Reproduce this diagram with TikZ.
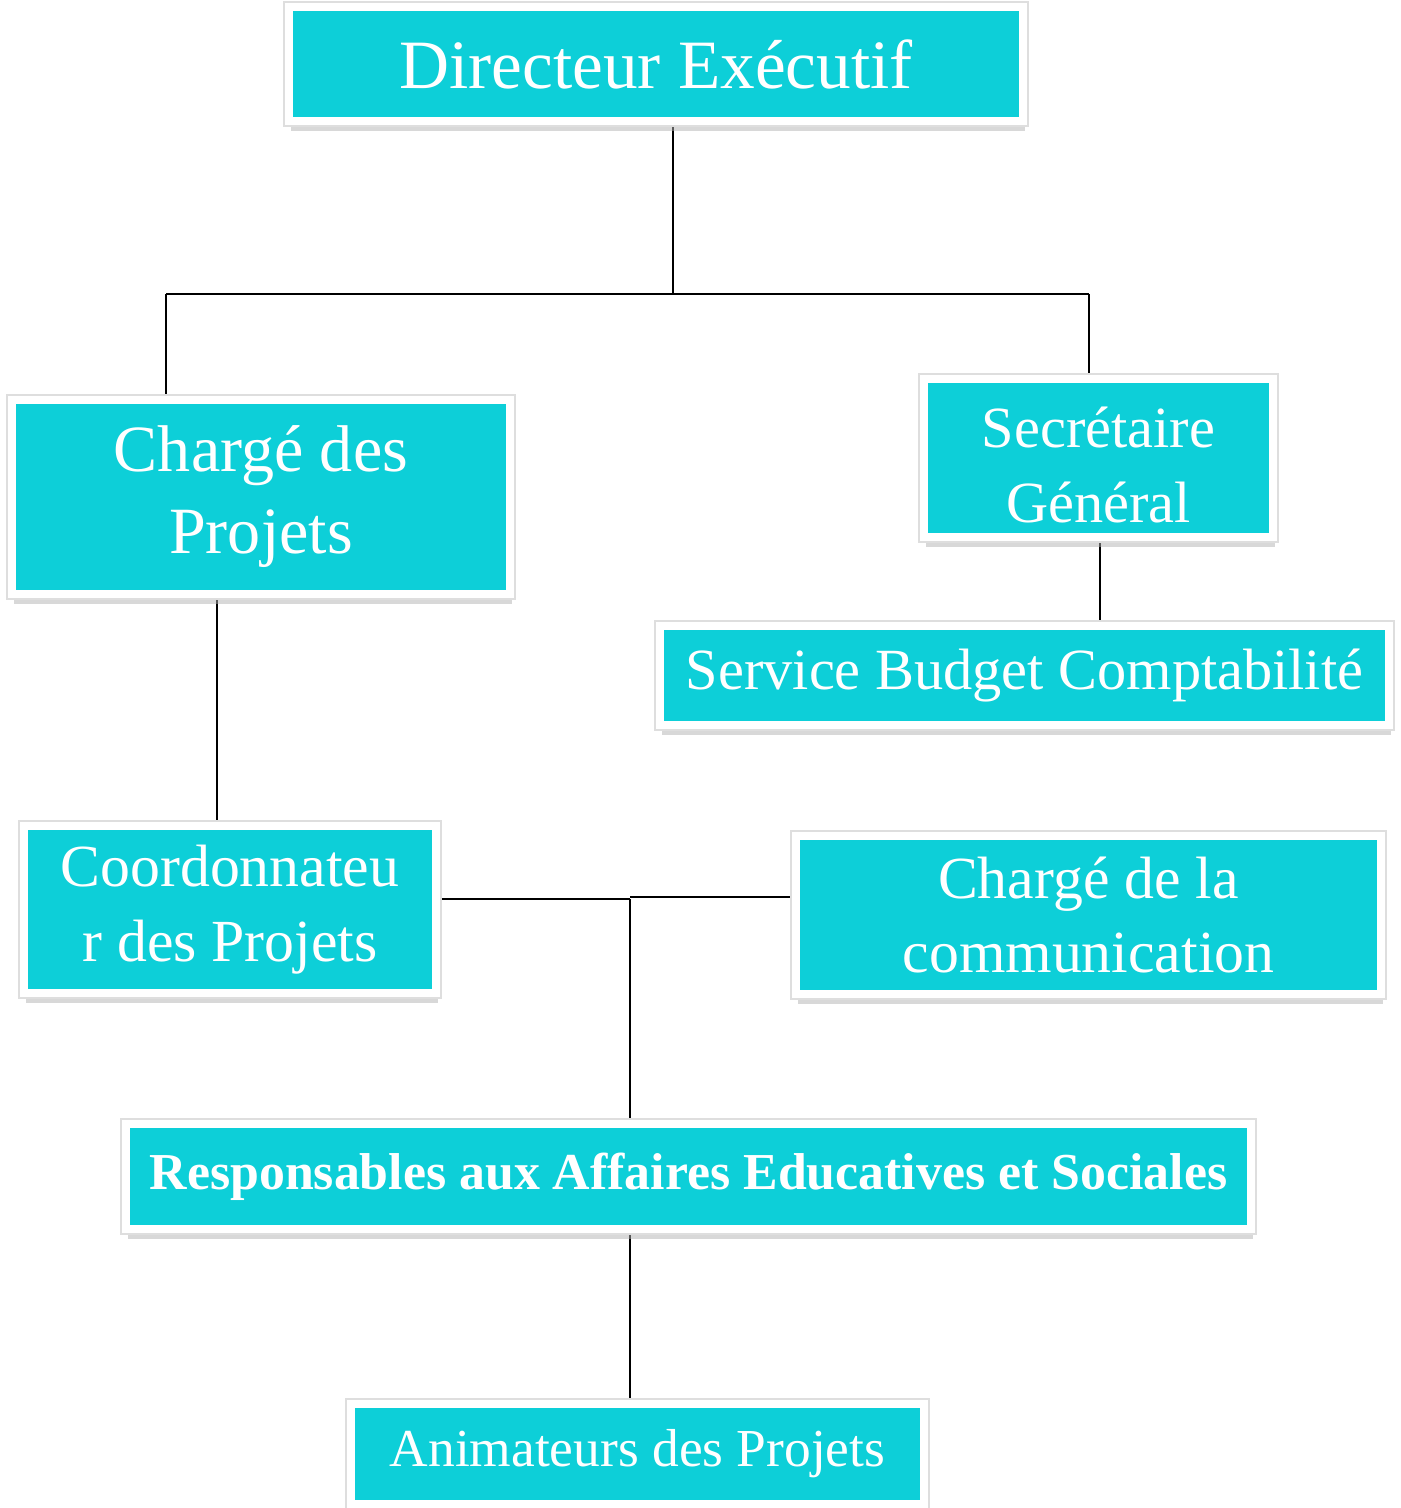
\documentclass[tikz,border=0pt]{standalone}
\usepackage{fontspec}
\setmainfont{Liberation Serif}
\usetikzlibrary{shadows,backgrounds}
\definecolor{boxcyan}{RGB}{13,207,216}
\begin{document}
\begin{tikzpicture}[box/.style={fill=boxcyan,draw=white,line width=0.08cm,text=white,align=center,inner sep=0pt,
  drop shadow={shadow xshift=0.015cm,shadow yshift=-0.1cm,fill=black!30,rounded corners=0.05cm},
  preaction={draw=black!13,line width=0.115cm,rounded corners=0.04cm}},
  link/.style={line width=0.6pt}]
\useasboundingbox (0,0) rectangle (14,-15.08);
\node[box,minimum width=7.34cm,minimum height=1.14cm,font=\fontsize{19.7}{24}\selectfont](dir) at (6.56,-0.64){Directeur Exécutif};
\node[box,minimum width=4.98cm,minimum height=1.94cm,font=\fontsize{18.8}{23.3}\selectfont](cdp) at (2.61,-4.97){Chargé des\\Projets};
\node[box,minimum width=3.49cm,minimum height=1.58cm,font=\fontsize{16.6}{21.3}\selectfont](sg) at (10.985,-4.58){\rule{0pt}{0.55cm}Secrétaire\\Général};
\node[box,minimum width=7.29cm,minimum height=0.99cm,font=\fontsize{16.6}{20}\selectfont](sbc) at (10.245,-6.755){Service Budget Comptabilité};
\node[box,minimum width=4.12cm,minimum height=1.67cm,font=\fontsize{17}{21.3}\selectfont](coord) at (2.30,-9.095){Coordonnateu\\r des Projets};
\node[box,minimum width=5.85cm,minimum height=1.58cm,font=\fontsize{17}{21.3}\selectfont](ccom) at (10.885,-9.15){Chargé de la\\communication};
\node[box,minimum width=11.25cm,minimum height=1.05cm,font=\bfseries\fontsize{14.75}{18}\selectfont](resp) at (6.885,-11.765){Responsables aux Affaires Educatives et Sociales};
\node[box,minimum width=5.73cm,minimum height=1.00cm,font=\fontsize{15.2}{19}\selectfont](anim) at (6.375,-14.54){Animateurs des Projets};
% liens
\coordinate (top) at (6.73,-2.94);
\coordinate (tl) at (1.66,-2.94);
\coordinate (tr) at (10.89,-2.94);
\coordinate (mid) at (6.30,-8.99);
\begin{scope}[on background layer]
\draw[link](dir.south -| top)--(top);
\draw[link](tl)--(tr);
\draw[link](tl)--(tl |- cdp.north);
\draw[link](tr)--(tr |- sg.north);
\draw[link](sg.south -| 11.0,0)--(sbc.north -| 11.0,0);
\draw[link](cdp.south -| 2.17,0)--(coord.north -| 2.17,0);
\draw[link](coord.east |- mid)--(mid);
\draw[link](mid)--(mid |- resp.north);
\draw[link](mid |- 0,-8.97)--(ccom.west |- 0,-8.97);
\draw[link](resp.south -| mid)--(anim.north -| mid);
\end{scope}
\end{tikzpicture}
\end{document}
